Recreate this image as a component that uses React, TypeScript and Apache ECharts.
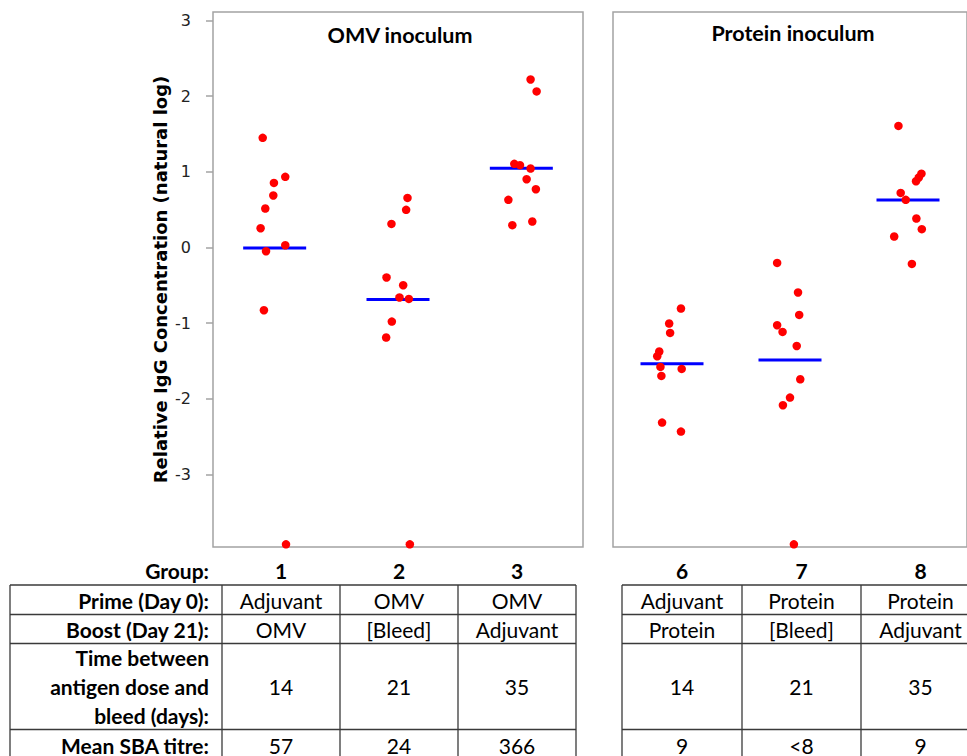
import React, { useEffect, useRef } from "react";
import * as echarts from "echarts";

// Group labels for the two panels
const omvGroups = ["1", "2", "3"];
const proteinGroups = ["6", "7", "8"];

// Relative IgG concentration (natural log) per animal, with horizontal jitter (in group units)
const g1Values = [1.448, 0.933, 0.853, 0.687, 0.515, 0.255, 0.03, -0.049, -0.828, -3.92];
const g1Jitter = [-0.097, 0.086, -0.006, -0.011, -0.076, -0.114, 0.086, -0.07, -0.087, 0.092];

const g2Values = [0.655, 0.497, 0.312, -0.396, -0.498, -0.66, -0.679, -0.978, -1.189, -3.92];
const g2Jitter = [0.077, 0.066, -0.053, -0.093, 0.042, 0.012, 0.088, -0.05, -0.096, 0.096];

const g3Values = [2.219, 2.061, 1.105, 1.087, 1.043, 0.902, 0.77, 0.629, 0.343, 0.295];
const g3Jitter = [0.075, 0.124, -0.057, -0.011, 0.075, 0.043, 0.118, -0.105, 0.089, -0.073];

const g6Values = [-0.806, -1.004, -1.128, -1.374, -1.436, -1.577, -1.603, -1.696, -2.312, -2.431];
const g6Jitter = [0.076, -0.024, -0.016, -0.108, -0.125, -0.098, 0.082, -0.09, -0.084, 0.076];

const g7Values = [-0.203, -0.594, -0.89, -1.026, -1.115, -1.3, -1.74, -1.982, -2.083, -3.92];
const g7Jitter = [-0.109, 0.068, 0.078, -0.109, -0.063, 0.057, 0.087, 0.0, -0.06, 0.033];

const g8Values = [1.606, 0.975, 0.925, 0.875, 0.721, 0.629, 0.383, 0.242, 0.145, -0.217];
const g8Jitter = [-0.081, 0.114, 0.092, 0.068, -0.062, -0.019, 0.071, 0.117, -0.117, 0.033];

// Y axis
const yTicks = [-3, -2, -1, 0, 1, 2, 3];
const yMin = -3.955;
const yMax = 3.11;

// Table rows
const primeRow = ["Adjuvant", "OMV", "OMV", "Adjuvant", "Protein", "Protein"];
const boostRow = ["OMV", "[Bleed]", "Adjuvant", "Protein", "[Bleed]", "Adjuvant"];
const daysRow = ["14", "21", "35", "14", "21", "35"];
const sbaRow = ["57", "24", "366", "9", "<8", "9"];
const rowLabels = [
  "Prime (Day 0):",
  "Boost (Day 21):",
  "Time between\nantigen dose and\nbleed (days):",
  "Mean SBA titre:",
];

const mean = (a: number[]) => a.reduce((s, v) => s + v, 0) / a.length;
const points = (vals: number[], jit: number[], g: number) =>
  vals.map((v, i) => [g + jit[i], v]);

// Table geometry
const TFONT = "Lato";
const TSIZE = 21;
const leftCols = [10, 222, 340, 458, 576];
const rightCols = [622, 742, 861, 980];
const rowLines = [585, 614.5, 643.5, 729.5, 762];
const rowCenters = [600, 629, 686.5, 745];
const labelRight = 209;
const groupRowY = 570;

function buildTable(): any[] {
  const els: any[] = [];
  const stroke = { stroke: "#3a3a3a", lineWidth: 1.3 };
  const hline = (x1: number, x2: number, y: number) => ({
    type: "line",
    silent: true,
    shape: { x1, y1: y, x2, y2: y },
    style: stroke,
  });
  const vline = (x: number) => ({
    type: "line",
    silent: true,
    shape: { x1: x, y1: rowLines[0], x2: x, y2: rowLines[rowLines.length - 1] },
    style: stroke,
  });
  rowLines.forEach((y) => {
    els.push(hline(leftCols[0], leftCols[leftCols.length - 1], y));
    els.push(hline(rightCols[0], rightCols[rightCols.length - 1], y));
  });
  leftCols.forEach((x) => els.push(vline(x)));
  rightCols.forEach((x) => els.push(vline(x)));

  const txt = (text: string, x: number, y: number, align: string, bold = false) => ({
    type: "text",
    silent: true,
    x,
    y,
    style: {
      text,
      align,
      verticalAlign: "middle",
      fontFamily: TFONT,
      fontSize: TSIZE,
      fontWeight: bold ? "bold" : "normal",
      lineHeight: 29,
      fill: "#000",
    },
  });

  els.push(txt("Group:", labelRight, groupRowY, "right", true));
  rowLabels.forEach((l, i) => els.push(txt(l, labelRight, rowCenters[i], "right", true)));

  const centers: number[] = [];
  for (let i = 0; i < 3; i++) centers.push((leftCols[i + 1] + leftCols[i + 2]) / 2);
  for (let i = 0; i < 3; i++) centers.push((rightCols[i] + rightCols[i + 1]) / 2);
  const groups = [...omvGroups, ...proteinGroups];
  const rows = [primeRow, boostRow, daysRow, sbaRow];
  centers.forEach((cx, c) => {
    els.push(txt(groups[c], cx, groupRowY, "center", true));
    rows.forEach((r, ri) => els.push(txt(r[c], cx, rowCenters[ri], "center")));
  });
  return els;
}

export default function App() {
  const ref = useRef<HTMLDivElement>(null);

  useEffect(() => {
    if (!ref.current) return;
    const chart = echarts.init(ref.current, undefined, { renderer: "svg" });
    const gridStyle = {
      top: 12,
      height: 535,
      show: true,
      borderColor: "#a3a3a3",
      borderWidth: 1.5,
      backgroundColor: "transparent",
    };
    const dotStyle = { color: "#ff0000", opacity: 1 };
    const meanStyle = { color: "#0000ff", opacity: 1 };

    const option: any = {
      animation: false,
      grid: [
        { ...gridStyle, left: 213, width: 370 },
        { ...gridStyle, left: 613, width: 368 },
      ],
      xAxis: [
        { type: "value", gridIndex: 0, min: 0.5, max: 3.5, show: false },
        { type: "value", gridIndex: 1, min: 0.5, max: 3.5, show: false },
      ],
      yAxis: [
        {
          type: "value",
          gridIndex: 0,
          min: yMin,
          max: yMax,
          splitLine: { show: false },
          axisLine: { show: false },
          axisTick: {
            show: true,
            customValues: yTicks,
            length: 7,
            lineStyle: { color: "#a3a3a3", width: 1.5 },
          },
          axisLabel: {
            customValues: yTicks,
            margin: 22,
            fontSize: 16,
            fontFamily: "DejaVu Sans",
            color: "#222",
          },
          name: "Relative IgG Concentration (natural log)",
          nameLocation: "middle",
          nameGap: 44,
          nameTextStyle: {
            fontSize: 18,
            fontWeight: "bold",
            fontFamily: "DejaVu Sans",
            color: "#000",
          },
        },
        {
          type: "value",
          gridIndex: 1,
          min: yMin,
          max: yMax,
          show: false,
          splitLine: { show: false },
        },
      ],
      series: [
        {
          type: "scatter",
          xAxisIndex: 0,
          yAxisIndex: 0,
          symbol: "rect",
          symbolSize: [63, 3],
          itemStyle: meanStyle,
          z: 2,
          data: [
            [1, mean(g1Values)],
            [2, mean(g2Values)],
            [3, mean(g3Values)],
          ],
        },
        {
          type: "scatter",
          xAxisIndex: 1,
          yAxisIndex: 1,
          symbol: "rect",
          symbolSize: [63, 3],
          itemStyle: meanStyle,
          z: 2,
          data: [
            [1, mean(g6Values)],
            [2, mean(g7Values)],
            [3, mean(g8Values)],
          ],
        },
        {
          type: "scatter",
          xAxisIndex: 0,
          yAxisIndex: 0,
          symbolSize: 8.5,
          itemStyle: dotStyle,
          z: 3,
          data: [
            ...points(g1Values, g1Jitter, 1),
            ...points(g2Values, g2Jitter, 2),
            ...points(g3Values, g3Jitter, 3),
          ],
        },
        {
          type: "scatter",
          xAxisIndex: 1,
          yAxisIndex: 1,
          symbolSize: 8.5,
          itemStyle: dotStyle,
          z: 3,
          data: [
            ...points(g6Values, g6Jitter, 1),
            ...points(g7Values, g7Jitter, 2),
            ...points(g8Values, g8Jitter, 3),
          ],
        },
      ],
      graphic: [
        {
          type: "text",
          silent: true,
          x: 400,
          y: 35,
          style: {
            text: "OMV inoculum",
            align: "center",
            verticalAlign: "middle",
            fontFamily: TFONT,
            fontSize: 21.5,
            fontWeight: "bold",
            fill: "#000",
          },
        },
        {
          type: "text",
          silent: true,
          x: 793,
          y: 33,
          style: {
            text: "Protein inoculum",
            align: "center",
            verticalAlign: "middle",
            fontFamily: TFONT,
            fontSize: 21.5,
            fontWeight: "bold",
            fill: "#000",
          },
        },
        ...buildTable(),
      ],
    };
    chart.setOption(option);
    return () => chart.dispose();
  }, []);

  return (
    <div
      ref={ref}
      style={{
        position: "fixed",
        left: 0,
        top: 0,
        width: 967,
        height: 756,
        overflow: "hidden",
        background: "#fff",
      }}
    />
  );
}
